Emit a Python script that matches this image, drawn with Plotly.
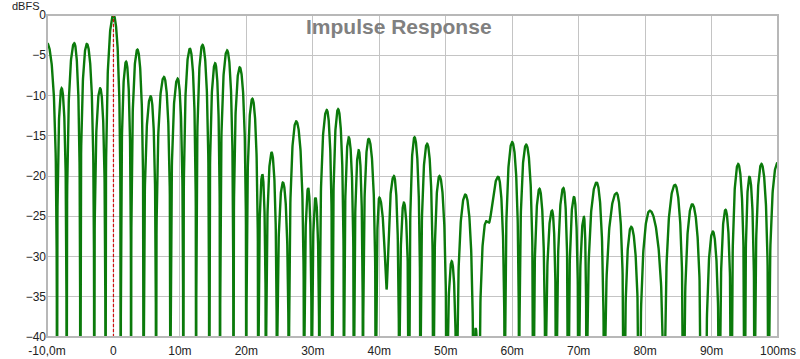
import numpy as np
import plotly.graph_objects as go

# ---- data (time in ms, level in dBFS) ----
peak_ms = [-10.0, -7.8, -5.9, -4.0, -2.0, 0.0, 1.9, 3.6, 5.6, 7.6, 9.65, 11.5, 13.4, 15.3, 17.1,
           19.0, 20.9, 22.4, 23.8, 25.5, 27.5, 29.3, 30.4, 32.1, 33.8, 35.4, 36.9, 38.4, 40.0,
           42.2, 43.7, 45.3, 47.2, 49.05, 50.9, 52.95, 54.5, 56.1, 57.9, 60.0, 62.1, 64.1, 66.0,
           67.7, 69.3, 70.8, 72.7, 75.7, 77.9, 80.7, 84.5, 87.1, 88.8, 90.2, 92.1, 94.0, 95.7,
           97.5, 99.9]
peak_db = [-3.5, -9.1, -3.5, -3.6, -9.1, 0.0, -5.8, -4.3, -10.1, -7.7, -7.9, -4.2, -3.7, -6.0, -4.4,
           -6.5, -10.4, -19.8, -17.1, -20.8, -13.2, -21.5, -22.7, -11.8, -11.7, -15.2, -16.8, -15.4, -22.7,
           -20.0, -23.3, -15.2, -16.0, -20.0, -30.6, -22.3, -38.9, -25.6, -20.1, -15.8, -16.1, -21.6, -24.3,
           -21.5, -22.6, -25.1, -20.8, -22.1, -26.3, -24.3, -21.1, -23.5, -46.0, -26.9, -24.2, -18.5, -20.1,
           -18.5, -18.4]
null_ms = [-8.5, -7.05, -5.0, -2.9, -1.2, 1.1, 2.65, 4.55, 6.4, 8.6, 10.5, 12.45, 14.4, 16.05, 18.05,
           20.0, 21.8, 22.95, 24.6, 26.4, 28.7, 29.85, 31.0, 32.95, 34.7, 36.2, 37.55, 39.5, 41.1,
           43.0, 44.5, 46.2, 48.15, 50.15, 51.65, 54.2, 55.0, 56.5, 58.9, 61.05, 63.2, 65.0, 66.65,
           68.45, 70.0, 71.2, 73.85, 76.85, 79.15, 82.9, 85.8, 88.5, 89.1, 91.2, 93.0, 95.0, 96.5, 98.6]
null_db = [-60, -60, -60, -60, -60, -60, -60, -60, -60, -60, -60, -60, -60, -60, -60,
           -60, -60, -60, -60, -60, -60, -60, -60, -60, -60, -60, -60, -60, -34.1,
           -60, -60, -60, -60, -60, -60, -60, -60, -25.8, -60, -60, -60, -60, -60,
           -60, -60, -60, -60, -60, -60, -60, -60, -60, -60, -60, -60, -60, -60, -60]

x_tickvals = [-10, 0, 10, 20, 30, 40, 50, 60, 70, 80, 90, 100]
x_ticktext = ["-10,0m", "0", "10m", "20m", "30m", "40m", "50m", "60m", "70m", "80m", "90m", "100ms"]
y_tickvals = [0, -5, -10, -15, -20, -25, -30, -35, -40]

# ---- draw the oscillating magnitude between the read turning points ----
turn_ms, turn_db = [], []
for i in range(len(null_ms)):
    turn_ms += [peak_ms[i], null_ms[i]]
    turn_db += [peak_db[i], null_db[i]]
turn_ms.append(peak_ms[-1])
turn_db.append(peak_db[-1])

xs, ys = [], []
for k in range(len(turn_ms) - 1):
    t0, t1 = turn_ms[k], turn_ms[k + 1]
    a0, a1 = 10 ** (turn_db[k] / 20), 10 ** (turn_db[k + 1] / 20)
    u = np.linspace(0, 1, 60, endpoint=False)
    ph = u * np.pi / 2
    amp = np.sqrt((a0 * np.cos(ph)) ** 2 + (a1 * np.sin(ph)) ** 2)
    xs.extend(t0 + u * (t1 - t0))
    ys.extend(20 * np.log10(amp))
xs.append(turn_ms[-1])
ys.append(turn_db[-1])
xs.append(100.0)
ys.append(turn_db[-1])

fig = go.Figure()
fig.add_trace(go.Scatter(x=xs, y=ys, mode="lines",
                         line=dict(color="#0b7a0b", width=2.4), hoverinfo="skip",
                         showlegend=False))

font = dict(family="Liberation Sans, Arial, sans-serif", size=12, color="#222222")

fig.update_layout(
    width=800, height=359, autosize=False,
    margin=dict(l=47, r=22, t=15, b=22, pad=0),
    paper_bgcolor="white", plot_bgcolor="white",
    font=font,
    xaxis=dict(range=[-10, 100], tickvals=x_tickvals, ticktext=x_ticktext,
               showgrid=True, gridcolor="#c4c4c4", gridwidth=1, zeroline=False,
               showline=False, ticks="", tickfont=font, automargin=False,
               ticklabelstandoff=5),
    yaxis=dict(range=[-40, 0], tickvals=y_tickvals,
               showgrid=True, gridcolor="#c4c4c4", gridwidth=1, zeroline=False,
               showline=False, ticks="", tickfont=font, automargin=False),
)

# dashed marker at t = 0
fig.add_shape(type="line", xref="x", yref="paper", x0=0, x1=0, y0=0, y1=1,
              line=dict(color="#d01010", width=1.2, dash="3px,2px"), layer="above")
# plot frame
fig.add_shape(type="rect", xref="paper", yref="paper", x0=0, x1=1, y0=0, y1=1,
              line=dict(color="#b8b8b8", width=2), layer="above")

fig.add_annotation(text="dBFS", xref="paper", yref="paper", x=0, y=1,
                   xanchor="right", yanchor="middle", xshift=-5, yshift=9,
                   showarrow=False, font=dict(family="Liberation Sans, Arial, sans-serif",
                                              size=11, color="#222222"))
fig.add_annotation(text="<b>Impulse Response</b>", xref="paper", yref="paper",
                   x=(399 - 47) / 731, y=1 - (26 - 15) / 322,
                   xanchor="center", yanchor="middle", showarrow=False,
                   font=dict(family="Liberation Sans, Arial, sans-serif", size=21,
                             color="#808080"))

fig.write_html("out.html")
